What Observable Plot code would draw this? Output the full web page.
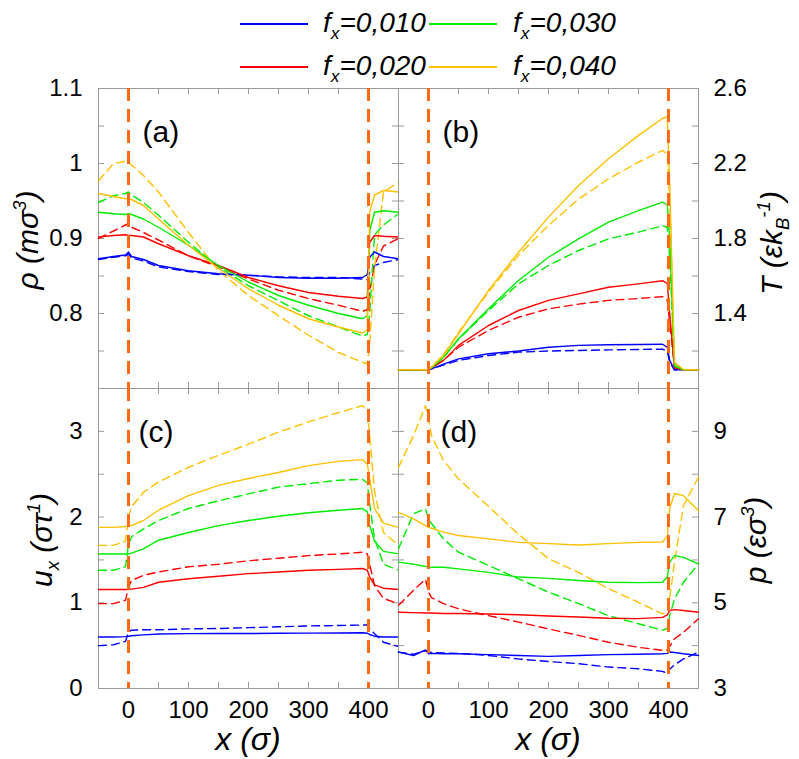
<!DOCTYPE html>
<html>
<head>
<meta charset="utf-8">
<script src="https://cdn.jsdelivr.net/npm/d3@7"></script>
<script src="https://cdn.jsdelivr.net/npm/@observablehq/plot@0.6"></script>
<style>
  body { margin: 0; background: #fff; }
  #chart { position: relative; width: 799px; height: 759px; overflow: hidden; background: #fff;
           font-family: "Liberation Sans", Arial, Helvetica, sans-serif; color: #000; }
  #chart svg { position: absolute; left: 0; top: 0; }
  .lab { position: absolute; white-space: nowrap; font-style: italic; line-height: 1; }
  .rot { transform: translate(-50%, -50%) rotate(-90deg); }
  .ctr { transform: translate(-50%, -50%); }
  .lab sup { font-size: 0.62em; position: relative; top: -0.05em; vertical-align: super; line-height: 0; }
  .lab sub { font-size: 0.62em; vertical-align: sub; line-height: 0; }
  .legline { position: absolute; height: 2px; }
  .legtext { position: absolute; white-space: nowrap; font-style: italic; font-size: 28px; line-height: 1; }
  .legtext sub { font-size: 0.62em; vertical-align: sub; line-height: 0; }
</style>
</head>
<body>
<div id="chart"></div>
<script>
// ---------- data ----------
const xGrid = [-50, -25, -5, 0, 5, 25, 50, 100, 150, 200, 250, 300, 350, 390, 398, 402, 410, 425, 450];
const forces = ["0,010", "0,020", "0,030", "0,040"];
const colors = ["#0000ff", "#ff0000", "#00ee00", "#ffc000"];
const guides = [0, 400];

// panel (a): density, rows = f 0.010, 0.020, 0.030, 0.040
const rhoSolid = [
  [.873,.876,.878,.882,.876,.872,.864,.857,.853,.851,.848,.847,.847,.848,.852,.875,.882,.876,.873],
  [.902,.904,.905,.904,.904,.902,.893,.877,.864,.848,.837,.828,.823,.820,.822,.895,.904,.903,.902],
  [.935,.933,.932,.933,.932,.926,.915,.891,.864,.842,.824,.811,.800,.793,.797,.910,.935,.937,.935],
  [.960,.956,.953,.953,.952,.944,.926,.891,.860,.833,.811,.793,.782,.774,.778,.935,.958,.964,.962]
];
const rhoDashed = [
  [.872,.875,.877,.879,.874,.870,.862,.856,.852,.851,.849,.848,.848,.846,.845,.855,.864,.868,.872],
  [.900,.910,.918,.920,.915,.908,.898,.877,.862,.846,.831,.820,.811,.803,.805,.830,.865,.890,.900],
  [.948,.957,.960,.962,.958,.948,.931,.895,.862,.837,.817,.797,.782,.770,.772,.800,.905,.918,.933],
  [.977,1.000,1.003,1.002,.998,.984,.962,.908,.857,.824,.797,.771,.748,.735,.733,.760,.860,.962,.975]
];
// panel (b): temperature
const tSolid = [
  [1.1,1.1,1.1,1.1,1.105,1.13,1.158,1.185,1.2,1.22,1.23,1.233,1.235,1.236,1.22,1.15,1.1,1.1,1.1],
  [1.1,1.1,1.1,1.1,1.11,1.15,1.23,1.336,1.416,1.47,1.505,1.54,1.558,1.575,1.56,1.40,1.11,1.1,1.1],
  [1.1,1.1,1.1,1.1,1.11,1.167,1.265,1.425,1.576,1.70,1.798,1.887,1.949,1.994,1.98,1.80,1.12,1.1,1.1],
  [1.1,1.1,1.1,1.1,1.115,1.176,1.292,1.523,1.727,1.914,2.083,2.225,2.35,2.44,2.45,2.10,1.14,1.1,1.1]
];
const tDashed = [
  [1.1,1.1,1.1,1.1,1.105,1.125,1.15,1.176,1.194,1.2,1.203,1.206,1.208,1.21,1.2,1.14,1.1,1.1,1.1],
  [1.1,1.1,1.1,1.1,1.11,1.15,1.22,1.31,1.38,1.425,1.45,1.47,1.48,1.49,1.47,1.35,1.11,1.1,1.1],
  [1.1,1.1,1.1,1.1,1.11,1.165,1.262,1.416,1.558,1.656,1.736,1.798,1.834,1.868,1.86,1.70,1.12,1.1,1.1],
  [1.1,1.1,1.1,1.1,1.115,1.18,1.30,1.514,1.71,1.87,2.01,2.118,2.207,2.27,2.25,2.0,1.13,1.1,1.1]
];
// panel (c): velocity
const uSolid = [
  [0.60,0.60,0.605,0.61,0.615,0.626,0.635,0.64,0.642,0.642,0.644,0.646,0.648,0.65,0.645,0.63,0.61,0.60,0.60],
  [1.155,1.155,1.155,1.155,1.16,1.18,1.24,1.28,1.31,1.34,1.36,1.38,1.39,1.40,1.38,1.30,1.21,1.17,1.155],
  [1.57,1.57,1.57,1.57,1.58,1.63,1.73,1.82,1.90,1.96,2.01,2.05,2.08,2.10,2.06,1.90,1.72,1.60,1.57],
  [1.88,1.88,1.89,1.90,1.90,1.96,2.08,2.25,2.37,2.45,2.52,2.60,2.65,2.67,2.62,2.45,2.10,1.93,1.88]
];
const uDashed = [
  [0.50,0.51,0.55,0.66,0.68,0.685,0.685,0.696,0.70,0.71,0.72,0.73,0.735,0.74,0.74,0.70,0.64,0.54,0.49],
  [0.99,0.99,1.03,1.18,1.26,1.32,1.36,1.42,1.45,1.49,1.52,1.55,1.57,1.59,1.57,1.45,1.20,1.05,0.99],
  [1.38,1.38,1.42,1.68,1.77,1.86,1.96,2.10,2.19,2.27,2.35,2.39,2.43,2.44,2.40,2.15,1.75,1.45,1.38],
  [1.67,1.67,1.72,2.00,2.12,2.29,2.41,2.58,2.72,2.85,2.99,3.11,3.22,3.30,3.25,2.95,2.30,1.82,1.67]
];
// panel (d): pressure
const pSolid = [
  [3.85,3.77,3.90,3.81,3.82,3.81,3.81,3.79,3.77,3.75,3.77,3.79,3.80,3.81,3.82,3.85,3.84,3.81,3.77],
  [4.78,4.77,4.76,4.76,4.76,4.75,4.75,4.74,4.72,4.69,4.67,4.64,4.63,4.66,4.72,4.82,4.84,4.82,4.78],
  [5.95,5.90,5.85,5.83,5.83,5.83,5.79,5.71,5.60,5.57,5.52,5.48,5.47,5.48,5.60,5.95,6.10,6.06,5.91],
  [7.11,6.96,6.80,6.76,6.74,6.65,6.57,6.49,6.41,6.38,6.35,6.38,6.41,6.42,6.55,7.20,7.55,7.50,7.15]
];
const pDashed = [
  [3.85,3.80,3.88,3.85,3.84,3.83,3.82,3.77,3.69,3.63,3.58,3.50,3.46,3.40,3.35,3.45,3.55,3.69,3.85],
  [4.94,5.29,5.55,5.25,5.12,4.98,4.86,4.70,4.55,4.39,4.24,4.08,3.96,3.89,3.90,3.98,4.16,4.31,4.63],
  [6.26,7.08,7.19,6.96,6.85,6.49,6.18,5.87,5.56,5.25,4.98,4.70,4.51,4.36,4.40,4.70,5.09,5.48,5.91],
  [8.16,8.90,9.60,9.30,8.90,8.32,7.89,7.25,6.60,6.03,5.71,5.33,5.01,4.74,4.80,5.10,5.95,7.27,7.93]
];

// ticks
const xTicks = [0, 50, 100, 150, 200, 250, 300, 350, 400];
const xLabels = [0, 100, 200, 300, 400];
const rhoTicks = [0.75, 0.8, 0.85, 0.9, 0.95, 1, 1.05];
const rhoLabels = [0.8, 0.9, 1, 1.1];
const tTicks = [1.2, 1.4, 1.6, 1.8, 2, 2.2, 2.4];
const tLabels = [1.4, 1.8, 2.2, 2.6];
const uTicks = [0.5, 1, 1.5, 2, 2.5, 3];
const uLabels = [0, 1, 2, 3];
const pTicks = [4, 5, 6, 7, 8, 9];
const pLabels = [3, 5, 7, 9];

// ---------- drawing ----------
const W = 799, H = 759, SIDE = 300, TICK = 6;
const grey = "#9a9a9a";
const orange = "#ff6a13";
const xDomain = [-50, 450];
const chart = document.getElementById("chart");

function panel(o) {
  const L = o.col === 0 ? 98 : 398;
  const T = o.row === 0 ? 88 : 388;
  const R = L + SIDE, B = T + SIDE;
  const cut = SIDE - TICK;
  const marks = [
    Plot.frame({stroke: grey}),
    // inward minor ticks on all four sides
    Plot.tickX(xTicks, {x: d => d, insetBottom: cut, stroke: grey, strokeWidth: 1}),
    Plot.tickX(xTicks, {x: d => d, insetTop: cut, stroke: grey, strokeWidth: 1}),
    Plot.tickY(o.ticks, {y: d => d, insetRight: cut, stroke: grey, strokeWidth: 1}),
    Plot.tickY(o.ticks, {y: d => d, insetLeft: cut, stroke: grey, strokeWidth: 1}),
    Plot.axisY({anchor: o.col === 0 ? "left" : "right", ticks: o.labels, tickSize: 0,
                tickPadding: o.col === 0 ? 16 : 15, label: null, tickFormat: d => String(d)})
  ];
  if (o.row === 1) {
    marks.push(Plot.axisX({anchor: "bottom", ticks: xLabels, tickSize: 0, tickPadding: 12,
                           label: null, tickFormat: d => String(d)}));
  } else {
    marks.push(Plot.axisX({anchor: "bottom", ticks: [], tickSize: 0, label: null}));
  }
  const series = (arr, dashed) => arr.forEach((vals, i) => {
    const rows = xGrid.map((x, j) => ({x, v: vals[j], f: forces[i]}));
    marks.push(Plot.line(rows, {x: "x", y: "v", stroke: colors[i], strokeWidth: 1.4,
                                strokeDasharray: dashed ? "8,5" : null}));
  });
  series(o.dashed, true);
  series(o.solid, false);
  marks.push(Plot.ruleX(guides, {stroke: orange, strokeWidth: 3, strokeDasharray: "13,8"}));
  marks.push(Plot.text([o.tag], {frameAnchor: "top-left", dx: o.tdx, dy: 44, textAnchor: "start",
                                 lineAnchor: "middle", fontSize: 30}));
  const svg = Plot.plot({
    width: W, height: H,
    marginLeft: L, marginRight: W - R, marginTop: T, marginBottom: H - B,
    x: {domain: xDomain, label: null},
    y: {domain: o.domain, label: null},
    style: {background: "transparent", overflow: "visible", fontSize: "24px",
            fontFamily: "'Liberation Sans', Arial, Helvetica, sans-serif", color: "#000"},
    marks
  });
  chart.appendChild(svg);
}

panel({row: 0, col: 0, solid: rhoSolid, dashed: rhoDashed, domain: [0.7, 1.1], ticks: rhoTicks, labels: rhoLabels, tag: "(a)", tdx: 44});
panel({row: 0, col: 1, solid: tSolid, dashed: tDashed, domain: [1.0, 2.6], ticks: tTicks, labels: tLabels, tag: "(b)", tdx: 44});
panel({row: 1, col: 0, solid: uSolid, dashed: uDashed, domain: [0, 3.5], ticks: uTicks, labels: uLabels, tag: "(c)", tdx: 40});
panel({row: 1, col: 1, solid: pSolid, dashed: pDashed, domain: [3, 10], ticks: pTicks, labels: pLabels, tag: "(d)", tdx: 42});

// axis titles (HTML for sub/superscripts)
function label(html, x, y, cls, size) {
  const d = document.createElement("div");
  d.className = "lab " + cls;
  d.style.left = x + "px";
  d.style.top = y + "px";
  d.style.fontSize = size + "px";
  d.innerHTML = html;
  chart.appendChild(d);
}
label("ρ (mσ<sup>3</sup>)", 28, 240, "rot", 30);
label("u<sub>x</sub> (στ<sup>1</sup>)", 42, 540, "rot", 30);
label("T (εk<sub>B</sub><sup>-1</sup>)", 772, 243, "rot", 30);
label("p (εσ<sup>3</sup>)", 756, 540, "rot", 30);
label("x (σ)", 248, 739, "ctr", 32);
label("x (σ)", 548, 739, "ctr", 32);

// legend
const legendPos = [
  {x1: 240, tx: 323, y: 24}, {x1: 240, tx: 323, y: 67},
  {x1: 429, tx: 513, y: 24}, {x1: 429, tx: 513, y: 67}
];
forces.forEach((f, i) => {
  const p = legendPos[i];
  const ln = document.createElement("div");
  ln.className = "legline";
  ln.style.left = p.x1 + "px";
  ln.style.width = "68px";
  ln.style.top = (p.y - 1) + "px";
  ln.style.background = colors[i];
  chart.appendChild(ln);
  const t = document.createElement("div");
  t.className = "legtext";
  t.style.left = p.tx + "px";
  t.style.top = (p.y - 15) + "px";
  t.innerHTML = "f<sub>x</sub>=" + f;
  chart.appendChild(t);
});
</script>
</body>
</html>
